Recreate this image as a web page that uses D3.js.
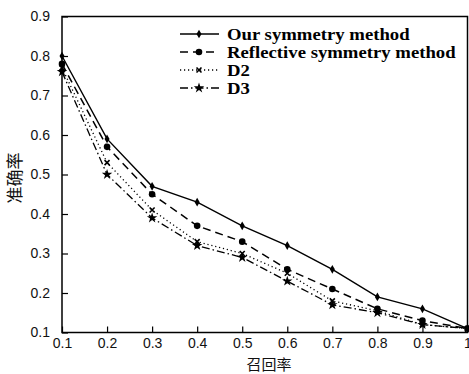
<!DOCTYPE html>
<html><head><meta charset="utf-8">
<script src="https://cdn.jsdelivr.net/npm/d3@7"></script>
<style>body{margin:0;background:#fff}svg{display:block}</style>
</head><body>
<svg id="c" width="469" height="374"></svg>
<script>
const recall = [0.1,0.2,0.3,0.4,0.5,0.6,0.7,0.8,0.9,1.0];
const ourMethod = [0.80,0.59,0.47,0.43,0.37,0.32,0.26,0.19,0.16,0.11];
const reflective = [0.78,0.57,0.45,0.37,0.33,0.26,0.21,0.16,0.13,0.11];
const d2 = [0.77,0.53,0.41,0.33,0.30,0.25,0.18,0.155,0.12,0.11];
const d3v = [0.76,0.50,0.39,0.32,0.29,0.23,0.17,0.15,0.12,0.11];
const seriesNames = ["Our symmetry method","Reflective symmetry method","D2","D3"];
const xTicks = [0.1,0.2,0.3,0.4,0.5,0.6,0.7,0.8,0.9,1];
const yTicks = [0.1,0.2,0.3,0.4,0.5,0.6,0.7,0.8,0.9];

const svg = d3.select("#c");
const L=62, R=467.5, T=16.5, B=332.5;
const x = d3.scaleLinear().domain([0.1,1]).range([L,R]);
const y = d3.scaleLinear().domain([0.1,0.9]).range([B,T]);
const font = "'Liberation Sans', Arial, sans-serif";

const series = [
  {name:seriesNames[0], vals:ourMethod, dash:null, w:1.4, sym:"diamond"},
  {name:seriesNames[1], vals:reflective, dash:"8,5", w:1.5, sym:"circle"},
  {name:seriesNames[2], vals:d2, dash:"1.2,2.8", w:1.3, sym:"cross"},
  {name:seriesNames[3], vals:d3v, dash:"8,3,1.5,3", w:1.3, sym:"star"}
];

function marker(g, sym, cx, cy){
  if(sym==="diamond"){
    g.append("path").attr("d",d3.symbol(d3.symbolDiamond,22)()).attr("transform",`translate(${cx},${cy})`).attr("fill","#000");
  } else if(sym==="circle"){
    g.append("circle").attr("cx",cx).attr("cy",cy).attr("r",3.3).attr("fill","#000");
  } else if(sym==="cross"){
    g.append("path").attr("d",`M${cx-2.5},${cy-2.5}L${cx+2.5},${cy+2.5}M${cx-2.5},${cy+2.5}L${cx+2.5},${cy-2.5}`).attr("stroke","#000").attr("stroke-width",1.6);
  } else {
    g.append("path").attr("d",d3.symbol(d3.symbolStar,34)()).attr("transform",`translate(${cx},${cy})`).attr("fill","#000");
  }
}

// frame
svg.append("rect").attr("x",L).attr("y",T).attr("width",R-L).attr("height",B-T).attr("fill","none").attr("stroke","#000").attr("stroke-width",1.5);

// y axis
const ya = svg.append("g").attr("transform",`translate(${L},0)`)
  .call(d3.axisLeft(y).tickValues(yTicks).tickSize(-6).tickPadding(12).tickFormat(d3.format(".1f")));
ya.select(".domain").remove();
ya.selectAll("line").attr("stroke","#000").attr("stroke-width",1.2);
ya.selectAll("text").attr("font-family",font).attr("font-size",14).attr("fill","#111");

// x axis
const xa = svg.append("g").attr("transform",`translate(0,${B})`)
  .call(d3.axisBottom(x).tickValues(xTicks).tickSize(-6).tickPadding(6).tickFormat(d=>d===1?"1":d3.format(".1f")(d)));
xa.select(".domain").remove();
xa.selectAll("line").attr("stroke","#000").attr("stroke-width",1.2);
xa.selectAll("text").attr("font-family",font).attr("font-size",14).attr("fill","#111");

// lines
const line = d3.line().x((d,i)=>x(recall[i])).y(d=>y(d));
series.forEach(s=>{
  svg.append("path").datum(s.vals).attr("d",line).attr("fill","none").attr("stroke","#000")
    .attr("stroke-width",s.w).attr("stroke-dasharray",s.dash);
  const g = svg.append("g");
  s.vals.forEach((v,i)=>marker(g,s.sym,x(recall[i]),y(v)));
});

// legend
const lg = svg.append("g");
const rows=[34,52,70,88];
series.forEach((s,i)=>{
  const yy=rows[i];
  lg.append("line").attr("x1",180).attr("x2",219).attr("y1",yy).attr("y2",yy).attr("stroke","#000")
    .attr("stroke-width",s.w).attr("stroke-dasharray",s.dash);
  marker(lg,s.sym,199,yy);
  lg.append("text").attr("transform",`translate(227,${yy+5.5}) scale(1.17,1)`).text(s.name)
    .attr("font-family","'Liberation Serif', 'Times New Roman', serif").attr("font-weight","bold").attr("font-size",16).attr("fill","#000");
});

// axis titles
svg.append("text").attr("x",269).attr("y",369.5).attr("text-anchor","middle").text("召回率")
  .attr("font-family","'Noto Sans CJK SC', sans-serif").attr("font-size",15).attr("fill","#111");
svg.append("text").attr("transform","translate(21,178) rotate(-90)").attr("text-anchor","middle").text("准确率")
  .attr("font-family","'Noto Sans CJK SC', sans-serif").attr("font-size",17).attr("fill","#111");
</script>
</body></html>
